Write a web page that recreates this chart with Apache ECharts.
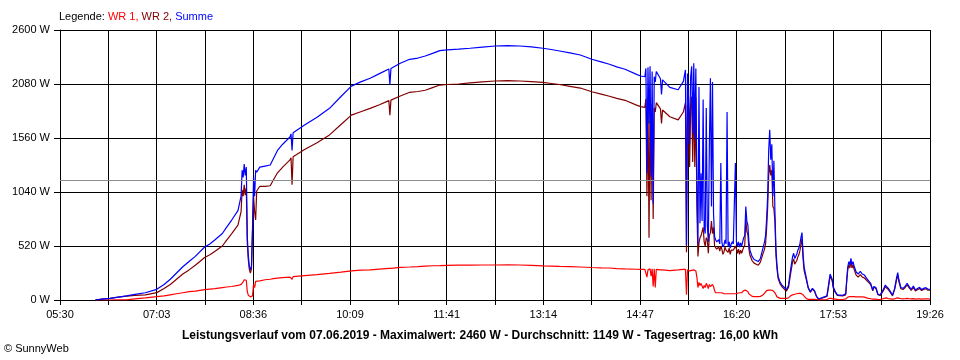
<!DOCTYPE html>
<html>
<head>
<meta charset="utf-8">
<script src="https://cdn.jsdelivr.net/npm/echarts@6/dist/echarts.min.js"></script>
<style>html,body{margin:0;padding:0;background:#fff}#c{width:960px;height:360px}</style>
</head>
<body>
<div id="c"></div>
<script>
// ---- data ----
const xTickLabels = ['05:30','07:03','08:36','10:09','11:41','13:14','14:47','16:20','17:53','19:26'];
const avgW = 1149;
const titleText = 'Leistungsverlauf vom 07.06.2019 - Maximalwert: 2460 W - Durchschnitt: 1149 W - Tagesertrag: 16,00 kWh';

const times = [
'06:04','06:10','06:18','06:26','06:34','06:42','06:52','07:03','07:10','07:16','07:22','07:28','07:34','07:40','07:49','07:54','07:59',
'08:06','08:10','08:15','08:21','08:24','08:25','08:26','08:27','08:28','08:29','08:30','08:31','08:32','08:33','08:34','08:35','08:36','08:37','08:38','08:39',
'08:42','08:47','08:52','08:55','08:59','09:04','09:11','09:12','09:13','09:14','09:25','09:37','09:49','10:00','10:10','10:19','10:28','10:37','10:46','10:47','10:48',
'10:57','11:06','11:14','11:21','11:28','11:35','11:42','11:53','12:04','12:16','12:28','12:40','12:52','13:03','13:14','13:22','13:30','13:40','13:50',
'14:01','14:10','14:18','14:25','14:33','14:44','14:48','14:52','14:53','14:54','14:55','14:56','14:57','14:58','14:59','15:00','15:01','15:02','15:03',
'15:07','15:08','15:09','15:16','15:24','15:29','15:31',
'15:32','15:33','15:34','15:35','15:36','15:37','15:38','15:39','15:40','15:41','15:42','15:43','15:44','15:45','15:46','15:47','15:48','15:49','15:50',
'15:51','15:52','15:53','15:54','15:55','15:56','15:57','15:58','15:59','16:00','16:01','16:02','16:03','16:04','16:05','16:06','16:07','16:08','16:09',
'16:10','16:11','16:12','16:13','16:14','16:15','16:16','16:17','16:19','16:20','16:21','16:22','16:23','16:24','16:25','16:26','16:27','16:28','16:29',
'16:30','16:31','16:32','16:33','16:35','16:37','16:39','16:41','16:43','16:45','16:47','16:48','16:49','16:50','16:51','16:52','16:53','16:54','16:55',
'16:56','16:57','16:58','16:59','17:00','17:02','17:04','17:06','17:08','17:10','17:12','17:14','17:15','17:16','17:17','17:18','17:19','17:20','17:21',
'17:22','17:23','17:24','17:25','17:27','17:29','17:31','17:33','17:35','17:37','17:39','17:47','17:49','17:50','17:51','17:52','17:53','17:55','17:57',
'18:02','18:05','18:06','18:07','18:08','18:09','18:10','18:11','18:12','18:13','18:15','18:17','18:19','18:21','18:23','18:25','18:27','18:29','18:31',
'18:32','18:34','18:36','18:38','18:40','18:42','18:43','18:44','18:46','18:48','18:50','18:52','18:54','18:55','18:56','18:58','19:00','19:02','19:04',
'19:06','19:08','19:10','19:12','19:14','19:16','19:18','19:20','19:22','19:24','19:26'
];

const summe = [
0,8,16,28,40,55,70,103,150,200,260,320,370,420,510,540,580,
640,700,770,860,1000,1250,1180,1310,1200,1280,600,420,320,290,330,700,1180,1000,1250,1230,
1280,1290,1300,1360,1440,1500,1570,1600,1440,1610,1685,1760,1846,1960,2060,2100,2135,2180,2225,2070,2230,
2280,2318,2330,2350,2375,2401,2408,2415,2424,2436,2446,2450,2446,2437,2424,2412,2398,2380,2359,
2318,2293,2270,2245,2222,2173,2157,2150,2230,1220,2240,1700,2250,1190,2200,930,2150,2100,2200,
2130,1980,2120,2048,2025,2105,2215,
530,2180,1940,1500,2150,2250,1600,2280,1550,2230,1120,540,2050,740,1220,760,1930,700,640,
1850,720,560,1500,2135,900,2100,830,610,580,560,550,580,540,1320,560,510,530,580,
540,1810,520,560,500,540,560,540,1320,560,520,560,510,550,520,560,600,620,900,
760,720,560,480,420,390,380,370,400,480,560,620,780,1000,1440,1640,1350,1500,1000,
1340,850,480,330,230,170,140,120,100,140,290,420,450,400,410,440,480,500,540,
600,650,450,320,220,120,80,112,90,35,10,40,180,250,255,200,128,80,50,
45,60,200,320,370,340,400,340,370,330,270,250,275,250,240,210,185,160,96,
130,120,55,48,80,120,144,140,112,80,48,110,220,263,200,120,112,130,161,
128,103,135,96,110,122,100,112,119,105,103
];

const wr2 = [
0,8,16,27,38,45,50,71,110,150,200,250,290,335,410,435,470,
520,575,640,720,850,1060,1000,1110,1010,1080,540,380,290,260,300,660,1000,850,770,1050,
1095,1095,1100,1155,1225,1280,1350,1370,1110,1380,1450,1515,1590,1690,1780,1813,1845,1880,1920,1780,1925,
1965,2000,2008,2020,2045,2070,2075,2080,2090,2100,2109,2112,2109,2103,2095,2085,2075,2058,2041,
2005,1983,1962,1942,1923,1877,1862,1855,1935,1000,1950,600,1940,960,1890,780,1850,1810,1900,
1840,1700,1830,1765,1735,1810,1900,
460,1880,1660,1280,1860,1960,1330,1990,1280,1950,900,420,550,600,620,610,700,560,520,
600,580,450,620,650,760,640,700,520,510,490,480,510,470,520,490,440,460,510,
480,470,460,500,440,480,490,480,520,490,450,490,440,480,450,480,510,530,780,
660,630,490,430,380,355,345,335,365,430,490,540,690,890,1200,1300,1200,1250,900,
880,750,430,300,210,154,124,104,85,120,250,370,395,345,355,380,415,435,475,
537,590,400,285,200,114,74,106,84,30,8,35,160,230,235,185,118,72,44,
40,50,180,292,338,308,368,308,338,298,240,220,245,220,212,190,170,148,88,
122,112,50,43,70,105,128,120,100,70,40,100,200,240,182,108,102,118,146,
116,93,122,87,100,111,91,102,108,95,94
];

const wr1 = [
0,0,0,1,2,10,20,32,40,50,60,70,80,85,100,105,110,
120,125,130,140,150,160,175,195,180,190,80,45,35,30,30,40,150,120,180,180,
185,195,200,205,210,215,220,225,200,225,235,245,256,268,280,287,290,298,305,305,305,
315,318,322,327,330,331,334,335,336,337,337,338,337,334,329,327,323,322,318,
313,310,308,303,299,296,295,295,295,220,290,280,300,230,300,130,300,120,295,
290,290,290,283,290,295,295,
50,290,280,280,290,285,270,290,275,280,220,120,170,140,160,150,110,140,120,
160,140,110,150,130,140,150,130,90,70,70,70,70,70,70,70,70,60,60,
60,60,60,60,60,60,60,60,60,65,65,65,70,70,70,80,90,90,95,
90,80,60,45,35,32,32,32,35,45,65,80,90,95,95,96,96,95,90,
80,70,50,30,20,16,16,16,15,20,40,50,55,55,55,60,62,64,64,
63,60,50,35,15,6,6,6,6,5,2,5,15,15,15,12,10,8,6,
5,10,20,28,32,32,32,32,32,32,30,30,30,30,28,20,15,12,8,
8,8,5,5,10,15,16,20,12,10,8,10,20,23,18,12,10,12,15,
12,10,13,9,10,11,9,10,11,10,9
];

// ---- chart ----
const FONT = '"Liberation Sans", Arial, sans-serif';
function toX(t){ const p = t.split(':').map(Number); return (p[0]*60 + p[1] - 330) * 9; }
const pairs = arr => times.map((t,i)=>[toX(t), arr[i]]);

const chart = echarts.init(document.getElementById('c'), null, {renderer:'canvas'});
const lineSeries = (name, arr, color, extra) => Object.assign({
  name, type:'line', data: pairs(arr), showSymbol:false, symbol:'none',
  lineStyle:{color, width:1.2}, itemStyle:{color}, emphasis:{disabled:true}, silent:true
}, extra || {});

chart.setOption({
  animation:false,
  backgroundColor:'#ffffff',
  title:[
    {text:'{a|Legende: }{b|WR 1, }{c|WR 2, }{d|Summe}', left:59, top:11, padding:0,
     textStyle:{fontSize:11, fontWeight:'normal', fontFamily:FONT,
       rich:{a:{color:'#000000',fontSize:11,fontFamily:FONT},b:{color:'#ff0000',fontSize:11,fontFamily:FONT},
             c:{color:'#800000',fontSize:11,fontFamily:FONT},d:{color:'#0000ff',fontSize:11,fontFamily:FONT}}}},
    {text:titleText, left:'center', top:330, padding:0,
     textStyle:{fontSize:12, fontWeight:'bold', color:'#000', fontFamily:FONT}},
    {text:'© SunnyWeb', left:4, top:343, padding:0,
     textStyle:{fontSize:11, fontWeight:'normal', color:'#000', fontFamily:FONT}}
  ],
  grid:{left:60, right:30, top:30, bottom:60, containLabel:false},
  xAxis:{
    type:'value', min:0, max:7524, interval:418,
    axisLine:{show:true, onZero:false, lineStyle:{color:'#000', width:1}},
    axisTick:{show:true, length:5, lineStyle:{color:'#000', width:1}},
    splitLine:{show:true, lineStyle:{color:'#000', width:1}},
    axisLabel:{show:true, color:'#000', fontSize:11, fontFamily:FONT, margin:9,
      showMinLabel:true, showMaxLabel:true,
      formatter:v => { const i = Math.round(v/418); return i % 2 === 0 ? (xTickLabels[i/2] || '') : ''; }}
  },
  yAxis:{
    type:'value', min:0, max:2600, interval:520,
    axisLine:{show:true, lineStyle:{color:'#000', width:1}},
    axisTick:{show:true, length:6, lineStyle:{color:'#000', width:1}},
    splitLine:{show:true, lineStyle:{color:'#000', width:1}},
    axisLabel:{show:true, color:'#000', fontSize:11, fontFamily:FONT, margin:10,
      formatter:v => String(v) + ' W'}
  },
  series:[
    lineSeries('WR 1', wr1, '#ff0000', {
      markLine:{silent:true, symbol:['none','none'], label:{show:false},
        lineStyle:{color:'#8c8c8c', type:'solid', width:1},
        emphasis:{disabled:true}, data:[{yAxis:avgW}]}
    }),
    lineSeries('WR 2', wr2, '#800000'),
    lineSeries('Summe', summe, '#0000ff')
  ]
});
</script>
</body>
</html>
